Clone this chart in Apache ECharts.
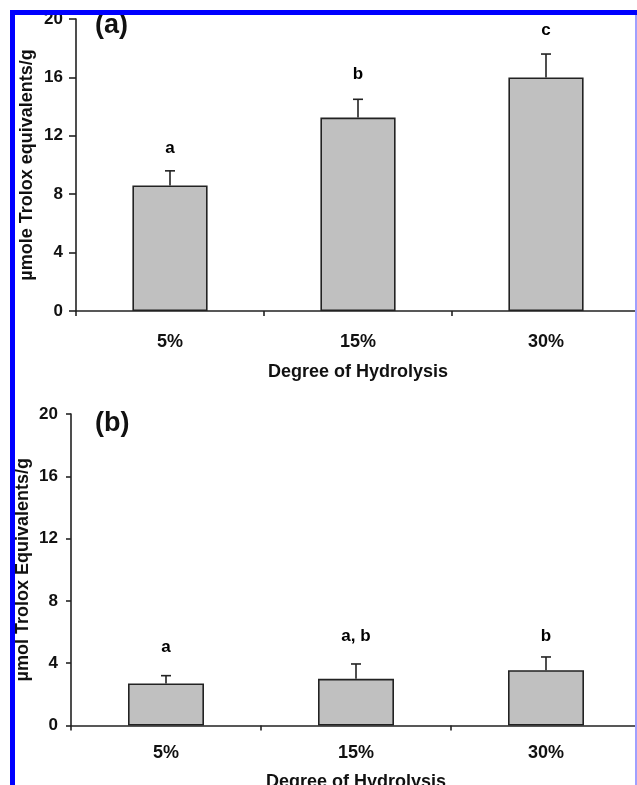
<!DOCTYPE html>
<html>
<head>
<meta charset="utf-8">
<script src="https://cdn.jsdelivr.net/npm/echarts@6/dist/echarts.min.js"></script>
<style>html,body{margin:0;padding:0;background:#fff}#c{width:637px;height:785px}</style>
</head>
<body>
<div id="c"></div>
<script>
const categories = ['5%', '15%', '30%'];
const meansA = [8.6, 13.25, 16.0];
const errA = [1.0, 1.25, 1.6];
const lettersA = ['a', 'b', 'c'];
const letterPosA = [11.15, 16.2, 19.2];
const meansB = [2.7, 3.0, 3.55];
const errB = [0.5, 0.95, 0.85];
const lettersB = ['a', 'a, b', 'b'];
const letterPosB = [5.05, 5.7, 5.7];
const yTicks = [0, 4, 8, 12, 16, 20];

const FONT = '"Liberation Sans", Arial, Helvetica, sans-serif';
const AX = '#222';

function errItem(params, api) {
  const x = api.value(0), m = api.value(1), e = api.value(2);
  const p0 = api.coord([x, m]);
  const p1 = api.coord([x, m + e]);
  return {
    type: 'group',
    children: [
      {type: 'line', shape: {x1: p0[0], y1: p0[1], x2: p1[0], y2: p1[1]}, style: {stroke: AX, lineWidth: 1.6}},
      {type: 'line', shape: {x1: p1[0] - 5, y1: p1[1], x2: p1[0] + 5, y2: p1[1]}, style: {stroke: AX, lineWidth: 1.6}}
    ]
  };
}

function xAx(gi, margin, nameGap) {
  return {
    type: 'category', gridIndex: gi, data: categories, boundaryGap: true,
    axisLine: {show: true, lineStyle: {color: AX, width: 1.6}},
    axisTick: {show: true, alignWithLabel: false, length: 5, lineStyle: {color: AX, width: 1.6}},
    axisLabel: {margin: margin, fontSize: 18, fontWeight: 'bold', color: '#111', fontFamily: FONT},
    name: 'Degree of Hydrolysis', nameLocation: 'middle', nameGap: nameGap, nameMoveOverlap: false,
    nameTextStyle: {fontSize: 18, fontWeight: 'bold', color: '#111', fontFamily: FONT},
    splitLine: {show: false}
  };
}
function yAx(gi, name, nameGap, tickLen) {
  return {
    type: 'value', gridIndex: gi, min: yTicks[0], max: yTicks[yTicks.length - 1], interval: yTicks[1] - yTicks[0],
    axisLine: {show: true, lineStyle: {color: AX, width: 1.6}},
    axisTick: {show: true, length: tickLen, lineStyle: {color: AX, width: 1.6}},
    axisLabel: {margin: 13, fontSize: 17, fontWeight: 'bold', color: '#111', fontFamily: FONT},
    splitLine: {show: false},
    name: name, nameLocation: 'middle', nameGap: nameGap, nameRotate: 90, nameMoveOverlap: false,
    nameTextStyle: {fontSize: 18, fontWeight: 'bold', color: '#111', fontFamily: FONT}
  };
}
function letterSeries(xi, pos, letters) {
  return {
    type: 'custom', xAxisIndex: xi, yAxisIndex: xi, silent: true, z: 4,
    data: pos.map((v, i) => [i, v]),
    renderItem: function (params, api) {
      const p = api.coord([api.value(0), api.value(1)]);
      return {type: 'text', x: p[0], y: p[1],
        style: {text: letters[params.dataIndex], font: 'bold 17px ' + FONT, fill: '#000',
          align: 'center', verticalAlign: 'middle'}};
    }
  };
}

const chart = echarts.init(document.getElementById('c'), null, {renderer: 'canvas'});
chart.setOption({
  backgroundColor: '#fff',
  animation: false,
  grid: [
    {left: 76, top: 19, width: 564, height: 292, containLabel: false, outerBoundsMode: 'none'},
    {left: 71, top: 414, width: 570, height: 311.5, containLabel: false, outerBoundsMode: 'none'}
  ],
  xAxis: [xAx(0, 22, 52), xAx(1, 19, 48)],
  yAxis: [yAx(0, 'µmole Trolox equivalents/g', 40, 7), yAx(1, 'µmol Trolox Equivalents/g', 39, 5)],
  series: [
    {type: 'bar', xAxisIndex: 0, yAxisIndex: 0, data: meansA, barWidth: '40%',
     itemStyle: {color: '#c0c0c0', borderColor: AX, borderWidth: 1.6}},
    {type: 'custom', xAxisIndex: 0, yAxisIndex: 0, renderItem: errItem,
     data: meansA.map((m, i) => [i, m, errA[i]]), z: 3},
    letterSeries(0, letterPosA, lettersA),
    {type: 'bar', xAxisIndex: 1, yAxisIndex: 1, data: meansB, barWidth: '40%',
     itemStyle: {color: '#c0c0c0', borderColor: AX, borderWidth: 1.6}},
    {type: 'custom', xAxisIndex: 1, yAxisIndex: 1, renderItem: errItem,
     data: meansB.map((m, i) => [i, m, errB[i]]), z: 3},
    letterSeries(1, letterPosB, lettersB)
  ],
  graphic: [
    {type: 'text', left: 95, top: 12, z: 50, style: {text: '(a)', font: 'bold 27px ' + FONT, fill: '#111'}},
    {type: 'text', left: 95, top: 410, z: 50, style: {text: '(b)', font: 'bold 27px ' + FONT, fill: '#111'}},
    {type: 'rect', z: 100, shape: {x: 10, y: 10, width: 627, height: 5}, style: {fill: '#0000ff'}},
    {type: 'rect', z: 100, shape: {x: 10, y: 10, width: 5, height: 775}, style: {fill: '#0000ff'}},
    {type: 'rect', z: 100, shape: {x: 635, y: 15, width: 2, height: 770}, style: {fill: '#a0a0ff'}}
  ]
});
</script>
</body>
</html>
